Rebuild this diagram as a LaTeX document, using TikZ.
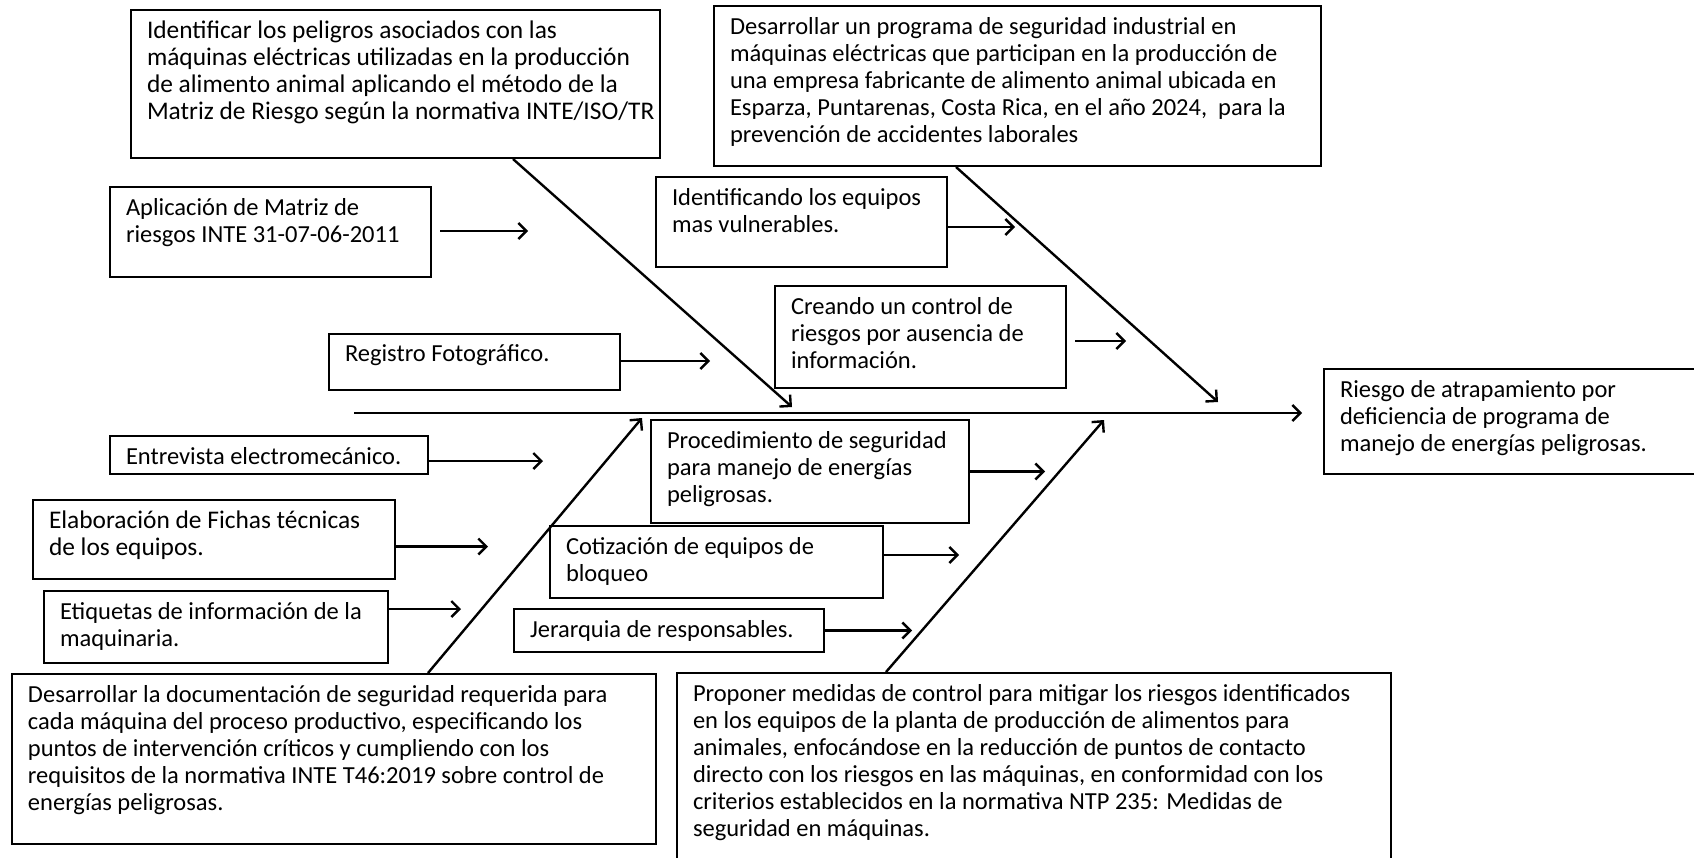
\documentclass[tikz,border=0pt]{standalone}
\usepackage{fontspec}
\setmainfont{Carlito}
\usetikzlibrary{arrows.meta}
\newlength\padx \setlength\padx{16pt}
\newlength\pady \setlength\pady{11pt}
\newcommand\bt[3]{\begin{minipage}[c][#2][t]{#1}\setlength{\parindent}{0pt}\leftskip=\padx\relax\rightskip=-60pt plus 1fil\relax\vspace*{\pady}#3\par\end{minipage}}
\tikzset{
  bx/.style={draw=black, line width=2pt, inner sep=0pt, anchor=north west, font=\fontsize{24.5}{27}\selectfont},
  arr/.style={line width=2.4pt, -{Straight Barb[length=8pt,width=16pt,line width=2.4pt]}},
  ln/.style={line width=2.4pt}
}
\begin{document}
\begin{tikzpicture}[x=1pt,y=-1pt]
\useasboundingbox (0,0) rectangle (1694,857);
\node[bx, font=\fontsize{25.4}{27}\selectfont] (A) at (130,9) {\bt{529pt}{148pt}{Identificar los peligros asociados con las\\ máquinas eléctricas utilizadas en la producción\\ de alimento animal aplicando el método de la\\ Matriz de Riesgo según la normativa INTE/ISO/TR}};
\node[bx] (B) at (713,5) {\bt{607pt}{160pt}{Desarrollar un programa de seguridad industrial en\\ máquinas eléctricas que participan en la producción de\\ una empresa fabricante de alimento animal ubicada en\\ Esparza, Puntarenas, Costa Rica, en el año 2024,\ \ para la\\ prevención de accidentes laborales}};
\node[bx] (C) at (109,186) {\bt{321pt}{90pt}{Aplicación de Matriz de\\ riesgos INTE 31-07-06-2011}};
\node[bx] (D) at (655,176) {\bt{291pt}{90pt}{Identificando los equipos\\ mas vulnerables.}};
\node[bx] (E) at (774,285) {\bt{291pt}{102pt}{Creando un control de\\ riesgos por ausencia de\\ información.}};
\node[bx] (F) at (328,333) {\bt{291pt}{56pt}{Registro Fotográfico.}};
\node[bx] (G) at (1323,368) {\bt{390pt}{105pt}{Riesgo de atrapamiento por\\ deficiencia de programa de\\ manejo de energías peligrosas.}};
\node[bx] (H) at (109,435) {\bt{318pt}{38pt}{Entrevista electromecánico.}};
\node[bx] (I) at (650,419) {\bt{318pt}{103pt}{Procedimiento de seguridad\\ para manejo de energías\\ peligrosas.}};
\node[bx, font=\fontsize{25.4}{27}\selectfont] (J) at (32,499) {\bt{362pt}{79pt}{Elaboración de Fichas técnicas\\ de los equipos.}};
\node[bx] (K) at (549,525) {\bt{333pt}{72pt}{Cotización de equipos de\\ bloqueo}};
\node[bx] (L) at (43,590) {\bt{344pt}{72pt}{Etiquetas de información de la\\ maquinaria.}};
\node[bx] (M) at (513,608) {\bt{310pt}{43pt}{Jerarquia de responsables.}};
\node[bx] (N) at (11,673) {\bt{644pt}{170pt}{Desarrollar la documentación de seguridad requerida para\\ cada máquina del proceso productivo, especificando los\\ puntos de intervención críticos y cumpliendo con los\\ requisitos de la normativa INTE T46:2019 sobre control de\\ energías peligrosas.}};
\node[bx] (O) at (676,672) {\bt{714pt}{200pt}{Proponer medidas de control para mitigar los riesgos identificados\\ en los equipos de la planta de producción de alimentos para\\ animales, enfocándose en la reducción de puntos de contacto\\ directo con los riesgos en las máquinas, en conformidad con los\\ criterios establecidos en la normativa NTP 235: Medidas de\\ seguridad en máquinas.}};
% spine
\coordinate (s0) at (354,413);
\draw[arr, shorten >=21pt] (s0) -- (s0 -| G.west);
% diagonals
\draw[arr] ([xshift=383pt]A.south west) -- ++(279,248);
\draw[arr] ([xshift=243pt]B.south west) -- ++(262,235);
\draw[arr] ([xshift=417pt]N.north west) -- ++(214,-255);
\draw[arr] ([xshift=210pt]O.north west) -- ++(218,-252);
% small arrows
\draw[arr] ([xshift=8pt,yshift=1pt]C.east) -- ++(88,0);
\draw[arr] ([yshift=-5pt]D.east) -- ++(67,0);
\draw[arr] ([xshift=8pt,yshift=-4pt]E.east) -- ++(51,0);
\draw[arr] ([yshift=1pt]F.east) -- ++(89,0);
\draw[arr] ([yshift=-6pt]H.east) -- ++(114,0);
\draw[arr] (I.east) -- ++(75,0);
\draw[arr] ([yshift=-7pt]J.east) -- ++(92,0);
\draw[arr] ([yshift=7pt]K.east) -- ++(75,0);
\draw[arr] ([yshift=18pt]L.east) -- ++(72,0);
\draw[arr] (M.east) -- ++(87,0);
\end{tikzpicture}
\end{document}
